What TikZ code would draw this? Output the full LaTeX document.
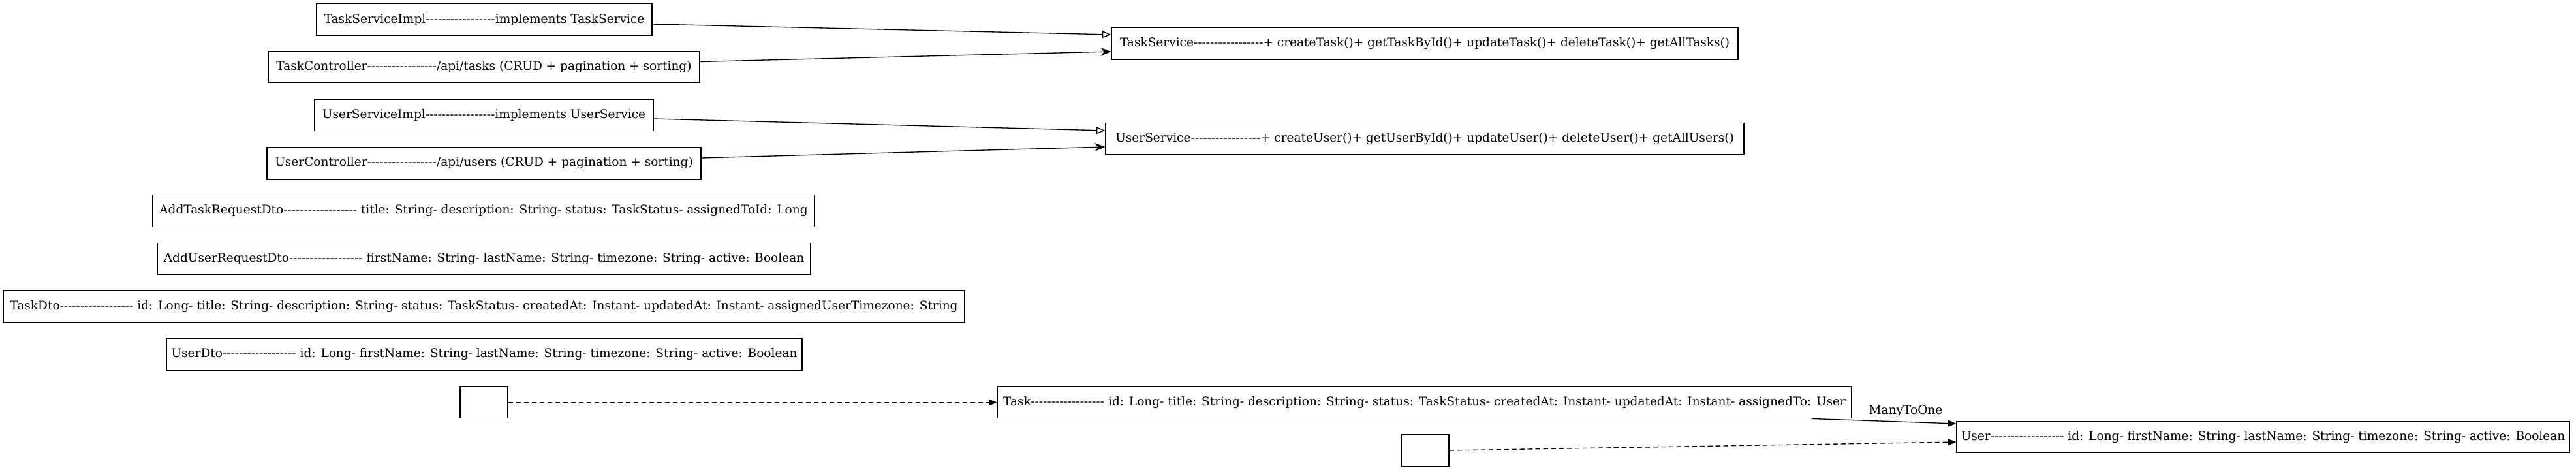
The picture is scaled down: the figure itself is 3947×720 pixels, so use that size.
\documentclass[tikz,border=0pt]{standalone}
\usepackage{fontspec}
\setmainfont{DejaVu Serif}[Ligatures=TeXOff]
\usetikzlibrary{arrows.meta,calc}
\begin{document}
\begin{tikzpicture}[x=0.75pt,y=-0.75pt,
  box/.style={draw, line width=0.9pt, rectangle, inner sep=0pt, minimum height=36.5pt,
    font=\fontsize{13.9}{16}\selectfont, anchor=center},
  edge/.style={line width=1pt},
  impl/.style={edge, -{Triangle[open,length=10pt,width=8pt]}},
  uses/.style={edge, -{Stealth[length=12pt,width=9.5pt,inset=4pt]}},
  dep/.style={edge, dash pattern=on 5.5pt off 3.5pt, -{Triangle[length=9.5pt,width=7.5pt]}},
  assoc/.style={edge, -{Triangle[length=9.5pt,width=7.5pt]}},
  lbl/.style={font=\fontsize{13.9}{16}\selectfont, inner sep=0pt}]
\path[fill=white] (0,0) rectangle (3947,720);
\useasboundingbox (0,0) rectangle (3947,720);

\node[box, minimum width=514*0.75pt] (tsi) at (742,30) {TaskServiceImpl-----------------implements TaskService};
\node[box, minimum width=661*0.75pt] (tc) at (741.5,102.5) {TaskController-----------------/api/tasks (CRUD + pagination + sorting)};
\node[box, minimum width=960*0.75pt] (ts) at (2183,67) {TaskService-----------------+ createTask()+ getTaskById()+ updateTask()+ deleteTask()+ getAllTasks()};
\node[box, minimum width=519*0.75pt] (usi) at (741.5,176.5) {UserServiceImpl-----------------implements UserService};
\node[box, minimum width=665*0.75pt] (uc) at (741.5,250) {UserController-----------------/api/users (CRUD + pagination + sorting)};
\node[box, minimum width=978*0.75pt] (us) at (2183,212.5) {UserService-----------------+ createUser()+ getUserById()+ updateUser()+ deleteUser()+ getAllUsers()};
\node[box, minimum width=1014*0.75pt] (atr) at (741,323) {AddTaskRequestDto------------------ title: String- description: String- status: TaskStatus- assignedToId: Long};
\node[box, minimum width=1001*0.75pt] (aur) at (741.5,396.5) {AddUserRequestDto------------------ firstName: String- lastName: String- timezone: String- active: Boolean};
\node[box, minimum width=1473*0.75pt] (td) at (741.5,470) {TaskDto------------------ id: Long- title: String- description: String- status: TaskStatus- createdAt: Instant- updatedAt: Instant- assignedUserTimezone: String};
\node[box, minimum width=974*0.75pt] (ud) at (742,543) {UserDto------------------ id: Long- firstName: String- lastName: String- timezone: String- active: Boolean};
\node[box, minimum width=73*0.75pt] (e1) at (741.5,616.5) {};
\node[box, minimum width=1309*0.75pt] (task) at (2182.5,616.5) {Task------------------ id: Long- title: String- description: String- status: TaskStatus- createdAt: Instant- updatedAt: Instant- assignedTo: User};
\node[box, minimum width=939*0.75pt] (user) at (3467.5,669.5) {User------------------ id: Long- firstName: String- lastName: String- timezone: String- active: Boolean};
\node[box, minimum width=73*0.75pt] (e2) at (2183.5,690) {};

\draw[impl] ($(tsi.east)+(0,7)$) -- ($(ts.west)+(0,-14)$);
\draw[uses] ($(tc.east)+(0,-8)$) -- ($(ts.west)+(0,12)$);
\draw[impl] ($(usi.east)+(0,5.5)$) -- ($(us.west)+(0,-12.5)$);
\draw[uses] ($(uc.east)+(0,-8)$) -- ($(us.west)+(0,12.5)$);
\draw[dep] (e1.east) -- (task.west);
\draw[assoc] ($(task.south east)+(-62,0)$) -- ($(user.west)+(0,-20.5)$);
\node[lbl] (m2o) at (2920,630) {ManyToOne};
\draw[dep] (e2.east) -- ($(user.west)+(0,7.5)$);
\end{tikzpicture}
\end{document}
